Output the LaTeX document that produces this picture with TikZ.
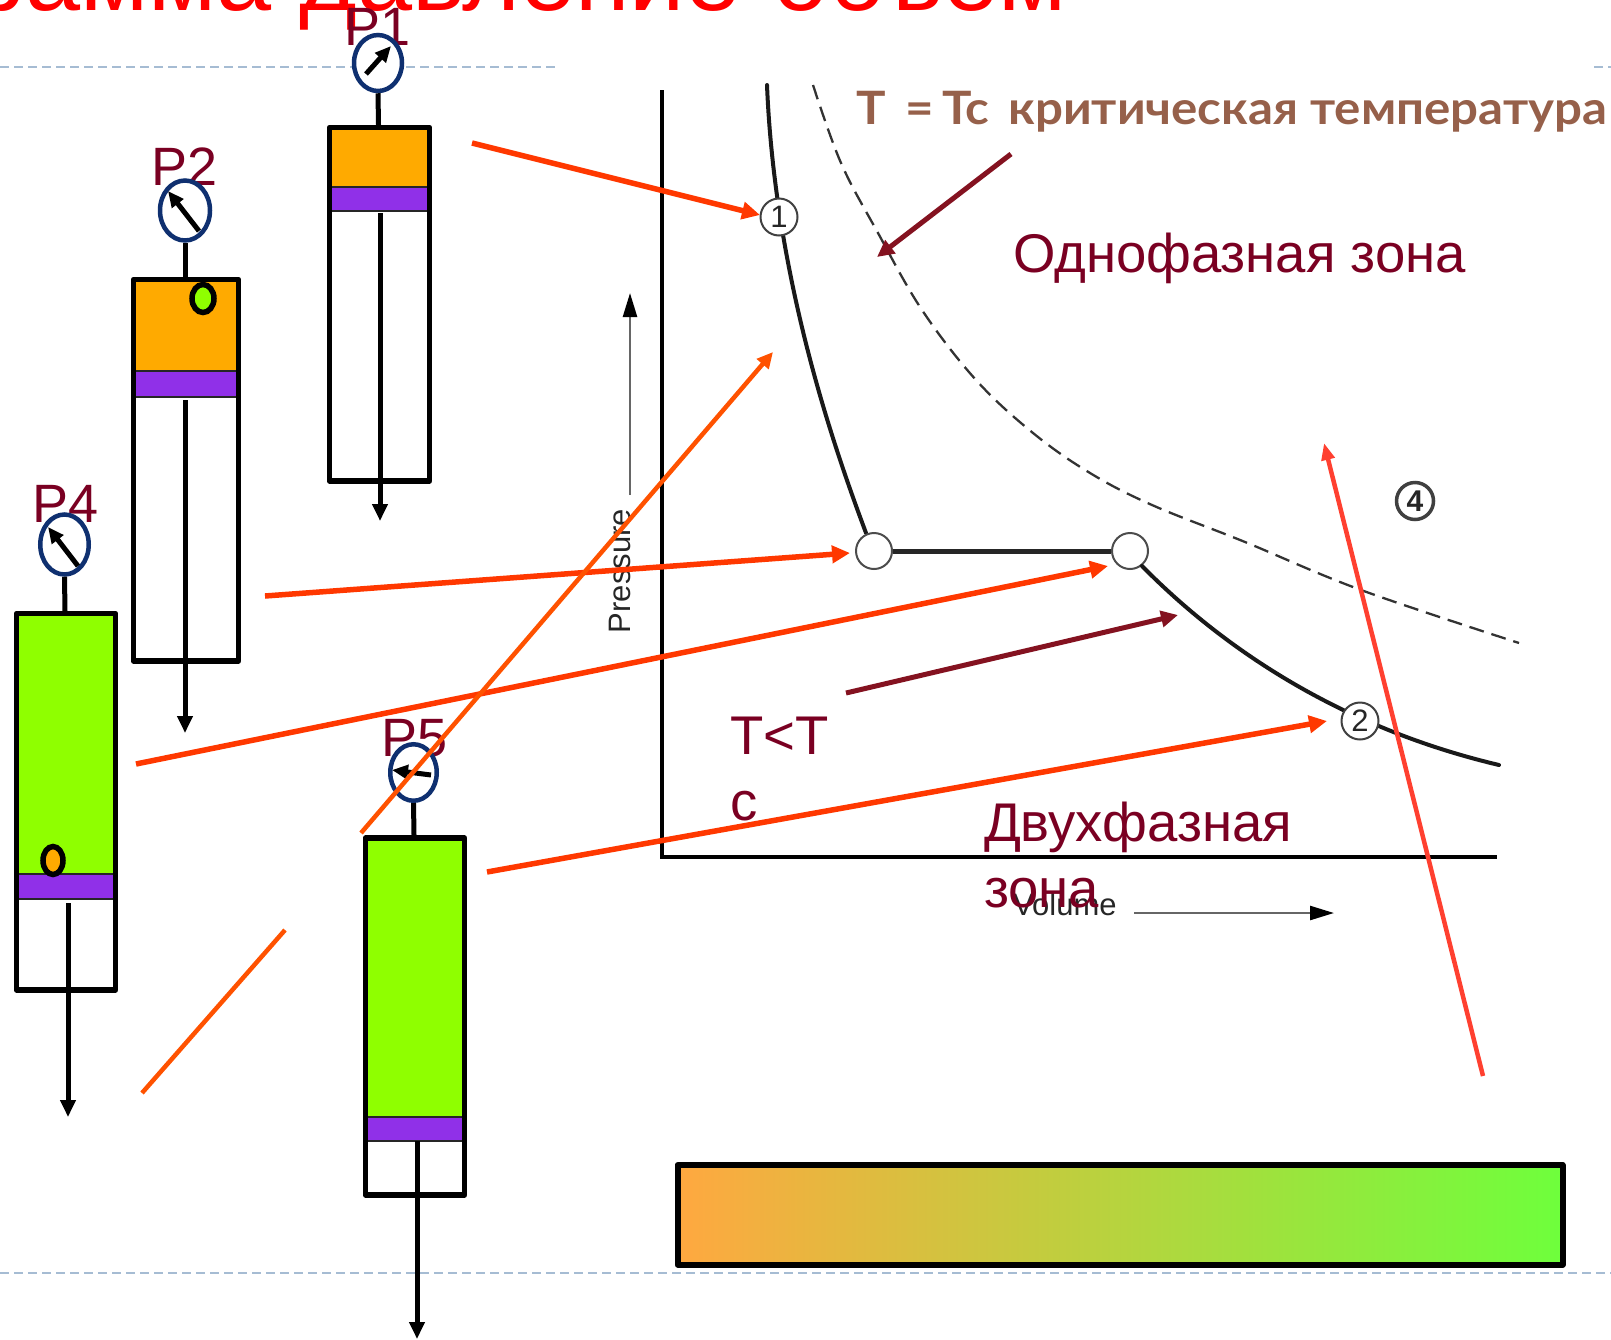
\documentclass[tikz,border=0pt]{standalone}
\usepackage{fontspec}
\setmainfont{Liberation Sans}
\newfontfamily\gillf{Lato}
\usetikzlibrary{arrows.meta,shapes.geometric}
\definecolor{lblred}{RGB}{122,0,34}
\definecolor{ttlred}{RGB}{255,0,0}
\definecolor{arrred}{RGB}{255,56,0}
\definecolor{arrorg}{RGB}{255,82,0}
\definecolor{arrpnk}{RGB}{255,64,48}
\definecolor{arrdrk}{RGB}{132,18,32}
\definecolor{gasorg}{RGB}{255,170,0}
\definecolor{pistn}{RGB}{144,48,232}
\definecolor{liqgrn}{RGB}{143,255,0}
\definecolor{gnavy}{RGB}{15,48,112}
\definecolor{rulec}{RGB}{166,188,211}
\definecolor{tcbrown}{RGB}{150,96,74}
\tikzset{
  x=1pt,y=-1pt,
  txt/.style={anchor=base west,inner sep=0pt,outer sep=0pt,text=lblred,font=\fontsize{#1}{#1}\selectfont},
  txt/.default=54,
  cyl/.style={draw=black,line width=5.5pt,line join=round},
  sep/.style={draw=black!85,line width=2pt},
  rod/.style={draw=black,line width=5pt,-{Triangle[length=17pt,width=15pt]}},
  stem/.style={draw=black,line width=5pt},
  gauge/.style={draw=gnavy,line width=4.5pt,fill=white,ellipse,minimum width=#1,inner sep=0pt},
  needle/.style={draw=black,line width=5pt,-{Triangle[length=16pt,width=14pt]}},
  blob/.style={draw=black,line width=5.5pt,ellipse,inner sep=0pt},
  redarr/.style={draw=arrred,line width=5.5pt,-{Triangle[length=18pt,width=17pt]}},
  orgarr/.style={draw=arrorg,line width=4.5pt,-{Triangle[length=16pt,width=15pt]}},
  pnkarr/.style={draw=arrpnk,line width=4.5pt,-{Triangle[length=17pt,width=13pt]}},
  drkarr/.style={draw=arrdrk,line width=5pt,-{Triangle[length=17pt,width=16pt]}},
  rulel/.style={draw=rulec,line width=1.8pt,dash pattern=on 8.5pt off 5.5pt},
  pnt/.style={circle,draw=black!75,line width=2pt,fill=white,minimum size=37pt,inner sep=0pt,font=\fontsize{31}{31}\selectfont,text=black!85},
  hole/.style={circle,draw=black!70,line width=2pt,fill=white,minimum size=36pt,inner sep=0pt},
  chartax/.style={draw=black,line width=3.5pt},
  isoline/.style={draw=black!90,line width=4pt,line cap=round},
  smallarr/.style={draw=black!60,line width=2.5pt,-{Triangle[length=24pt,width=14pt,black]}},
  axlab/.style={inner sep=0pt,text=black!85,font=\fontsize{31}{31}\selectfont}
}
\begin{document}
\begin{tikzpicture}
\useasboundingbox (0,0) rectangle (1611,1339);
\clip (0,0) rectangle (1611,1339);
% title
\node[anchor=base east,inner sep=0pt,text=ttlred,font=\fontsize{99}{99}\selectfont] (title) at (1067,10) {Диаграмма давление-объем};
% slide rules
\coordinate (r1a) at (0,67); \coordinate (r1b) at (557,67);
\coordinate (r2a) at (1594,67); \coordinate (r2b) at (1611,67);
\coordinate (r3a) at (0,1273); \coordinate (r3b) at (1611,1273);
\draw[rulel] (r1a)--(r1b); \draw[rulel] (r2a)--(r2b); \draw[rulel] (r3a)--(r3b);
% chart axes
\coordinate (ax0) at (662,857); \coordinate (axy) at (662,90); \coordinate (axx) at (1497,857);
\draw[chartax] (axy)--(ax0)--(axx);
% pressure / volume
\coordinate (pa) at (630,495); \coordinate (pb) at (630,293);
\draw[smallarr] (pa)--(pb);
\node[axlab,rotate=90] (pressure) at (620,571) {Pressure};
\coordinate (va) at (1134,913); \coordinate (vb) at (1334,913);
\draw[smallarr] (va)--(vb);
\node[axlab,anchor=base west] (volume) at (1013,915) {Volume};
% critical isotherm
\draw[draw=black!80,line width=2.3pt,dash pattern=on 15pt off 8pt] plot[smooth,tension=.6] coordinates {(813,85)(841,163)(878,233)(922,310)(976,380)(1033,433)(1090,473)(1152,505)(1245,542)(1361,590)(1519,643)};
% isotherm T<Tc
\draw[isoline] (767,85) .. controls (775,280) and (835,450) .. (866,533);
\node[hole] (ca) at (874,551) {};
\node[hole] (cb) at (1130,551) {};
\draw[draw=black!85,line width=5pt] (ca)--(cb);
\draw[isoline] (1142,566) .. controls (1215,640) and (1330,725) .. (1499,765);
\node[pnt] (p1) at (779,217) {1};
\node[pnt] (p2) at (1360,721) {2};
\node[pnt,line width=3.5pt,font=\bfseries\fontsize{30}{30}\selectfont] (p4) at (1415,501) {4};
% cylinder P1
\fill[gasorg] (329.5,128) rectangle (429.5,187);
\fill[pistn] (329.5,187) rectangle (429.5,211);
\draw[sep] (329.5,187)--(429.5,187); \draw[sep] (329.5,211)--(429.5,211);
\draw[cyl] (329.5,127.5) rectangle (429.5,481);
\coordinate (r1t) at (380,213); \coordinate (r1e) at (380,521);
\draw[rod] (r1t)--(r1e);
\node[txt] (lp1) at (344,45) {P1};
\node[gauge=48pt,minimum height=56pt] (g1) at (378,63) {};
\coordinate (s1) at (378.5,125);
\draw[stem] (g1.south)--(s1);
\coordinate (n1a) at (366,74); \coordinate (n1b) at (391,46);
\draw[needle] (n1a)--(n1b);
% cylinder P2
\fill[gasorg] (133.5,280) rectangle (238.5,371);
\fill[pistn] (133.5,371) rectangle (238.5,397);
\draw[sep] (133.5,371)--(238.5,371); \draw[sep] (133.5,397)--(238.5,397);
\draw[cyl] (133.5,279.5) rectangle (238.5,661);
\coordinate (r2t) at (185,400); \coordinate (r2e) at (185,733);
\draw[rod] (r2t)--(r2e);
\node[txt] (lp2) at (151,185) {P2};
\node[gauge=50pt,minimum height=60pt] (g2) at (185,210.5) {};
\coordinate (s2) at (185,277);
\draw[stem] (g2.south)--(s2);
\coordinate (n2a) at (199,231); \coordinate (n2b) at (168,191);
\draw[needle] (n2a)--(n2b);
\node[blob,fill=liqgrn,minimum width=22pt,minimum height=28pt] (b2) at (203,298.5) {};
% cylinder P4
\fill[liqgrn] (16.5,613) rectangle (115.5,873);
\fill[pistn] (16.5,873) rectangle (115.5,899);
\draw[sep] (16.5,873.5)--(115.5,873.5); \draw[sep] (16.5,899)--(115.5,899);
\draw[cyl] (16.5,613.5) rectangle (115.5,990);
\coordinate (r4t) at (68,903); \coordinate (r4e) at (68,1117);
\draw[rod] (r4t)--(r4e);
\node[txt] (lp4) at (32,522) {P4};
\node[gauge=48.5pt,minimum height=60pt] (g4) at (64.5,544.5) {};
\coordinate (s4) at (65,611);
\draw[stem] (g4.south)--(s4);
\coordinate (n4a) at (78,566); \coordinate (n4b) at (48,527);
\draw[needle] (n4a)--(n4b);
\node[blob,fill=gasorg,minimum width=20pt,minimum height=28pt] (b4) at (53,860.5) {};
% cylinder P5
\fill[liqgrn] (365.5,838) rectangle (464.5,1116);
\fill[pistn] (365.5,1116) rectangle (464.5,1141);
\draw[sep] (365.5,1116.5)--(464.5,1116.5); \draw[sep] (365.5,1141)--(464.5,1141);
\draw[cyl] (365.5,838) rectangle (464.5,1195);
\coordinate (r5t) at (417,1141); \coordinate (r5e) at (417,1339);
\draw[rod] (r5t)--(r5e);
\node[txt] (lp5) at (381,756) {P5};
\node[gauge=46.5pt,minimum height=56.5pt] (g5) at (413.5,772.5) {};
\coordinate (s5) at (414,835);
\draw[stem] (g5.south)--(s5);
\coordinate (n5a) at (431,775); \coordinate (n5b) at (392,770);
\draw[needle] (n5a)--(n5b);
% texts
\node[anchor=base west,inner sep=0pt,text=tcbrown,font=\gillf\bfseries\fontsize{46}{46}\selectfont] (tc) at (856,124) {\scalebox{1.07}[1]{T\kern7.5pt\ =\kern7.5pt Tc\kern6.4pt\ критическая температура}};
\node[txt=54.5] (one) at (1013,272) {Однофазная зона};
\node[txt=54.5] (tlt) at (730,754) {T<T};
\node[txt=54.5] (tltc) at (730,820) {c};
\node[txt=54.5] (two) at (984,841) {Двухфазная};
\node[txt=54.5] (twob) at (984,907) {зона};
% dark arrows
\coordinate (d1a) at (1011,154); \coordinate (d1b) at (877,257);
\draw[drkarr] (d1a)--(d1b);
\coordinate (d2a) at (846,693); \coordinate (d2b) at (1178,615);
\draw[drkarr] (d2a)--(d2b);
% red arrows
\coordinate (a1a) at (472,143); \coordinate (a1b) at (760,215);
\draw[redarr] (a1a)--(a1b);
\coordinate (a2a) at (265,596); \coordinate (a2b) at (850,553);
\draw[redarr] (a2a)--(a2b);
\coordinate (a3a) at (136,764); \coordinate (a3b) at (1108,566);
\draw[redarr] (a3a)--(a3b);
\coordinate (a4a) at (487,872); \coordinate (a4b) at (1327,721);
\draw[redarr] (a4a)--(a4b);
\coordinate (a5a) at (361,833); \coordinate (a5b) at (773,352);
\draw[orgarr] (a5a)--(a5b);
\coordinate (a6a) at (285,930); \coordinate (a6b) at (142,1093);
\draw[draw=arrorg,line width=4.5pt] (a6a)--(a6b);
\coordinate (a7a) at (1483,1076); \coordinate (a7b) at (1324,443);
\draw[pnkarr] (a7a)--(a7b);
% gradient bar
\draw[draw=black,line width=6pt,line join=round,left color={rgb,255:red,255;green,168;blue,64},middle color={rgb,255:red,200;green,208;blue,66},right color={rgb,255:red,110;green,255;blue,60}] (677.5,1165) rectangle (1562.5,1264.5);
\end{tikzpicture}
\end{document}
